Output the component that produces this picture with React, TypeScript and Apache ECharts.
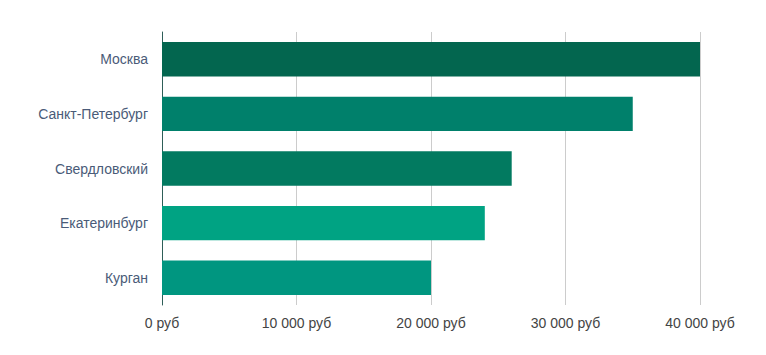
import React, { useEffect, useRef } from "react";
import * as echarts from "echarts";

const categories = ["Москва", "Санкт-Петербург", "Свердловский", "Екатеринбург", "Курган"];
const values = [40000, 35000, 26000, 24000, 20000];
const barColors = ["#03664f", "#00806b", "#027a60", "#00a383", "#009680"];

export default function App() {
  const ref = useRef<HTMLDivElement>(null);
  useEffect(() => {
    if (!ref.current) return;
    const chart = echarts.init(ref.current, undefined, { renderer: "svg" });
    const fmt = (v: number) => {
      const s = String(v).replace(/\B(?=(\d{3})+(?!\d))/g, " ");
      return s + " руб";
    };
    chart.setOption({
      animation: false,
      grid: { left: 154, right: 58, top: 24, bottom: 42, containLabel: false },
      xAxis: {
        type: "value",
        min: 0,
        max: 40000,
        interval: 10000,
        axisLine: { show: false },
        axisTick: { show: false },
        splitLine: { lineStyle: { color: "#cccccc", width: 1 } },
        axisLabel: {
          formatter: fmt,
          color: "#444444",
          fontSize: 14,
          fontFamily: "Liberation Sans, Arial, sans-serif",
          margin: 11,
        },
      },
      yAxis: {
        type: "category",
        data: categories,
        inverse: true,
        axisLine: { show: true, lineStyle: { color: "#2e5e58", width: 1 } },
        axisTick: { show: false },
        splitLine: { show: false },
        axisLabel: {
          color: "#4a5b78",
          fontSize: 14,
          fontFamily: "Liberation Sans, Arial, sans-serif",
          margin: 14,
        },
      },
      series: [
        {
          type: "bar",
          data: values.map((v, i) => ({ value: v, itemStyle: { color: barColors[i] } })),
          barWidth: "63%",
        },
      ],
    });
    return () => chart.dispose();
  }, []);
  return <div ref={ref} style={{ width: 750, height: 339 }} />;
}
